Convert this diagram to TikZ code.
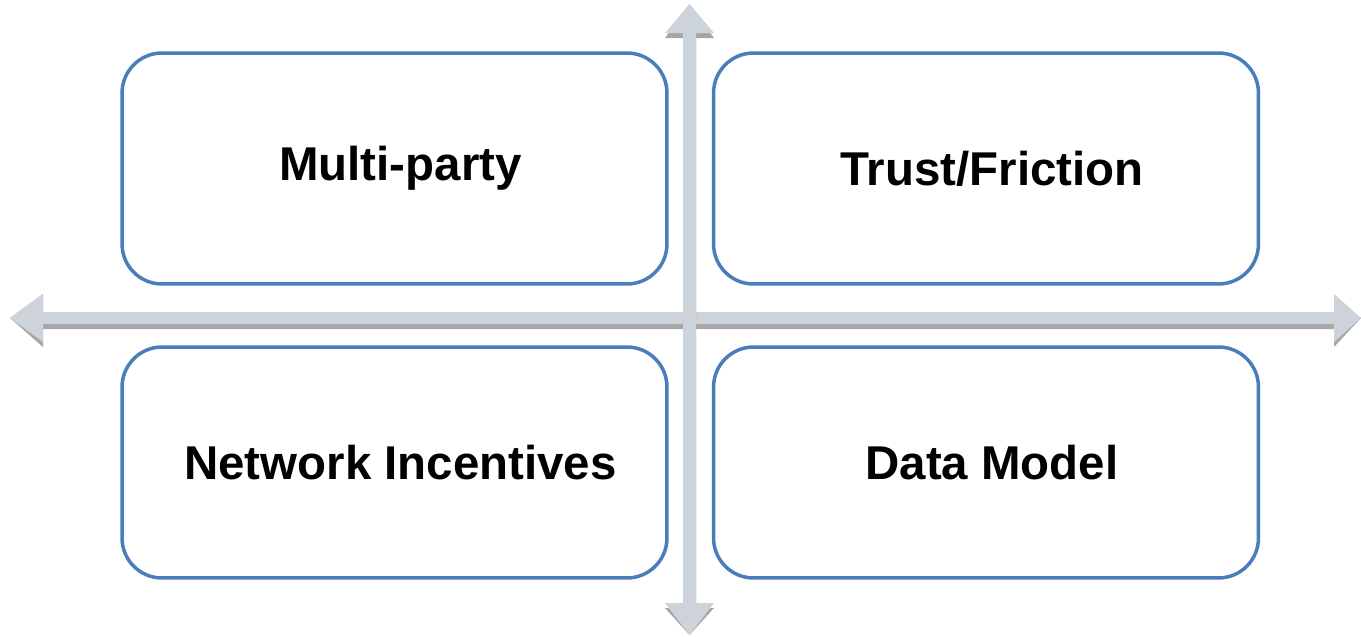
\documentclass[tikz,border=0pt]{standalone}
\usepackage{fontspec}
\setmainfont{Liberation Sans}
\usepackage{tikz}
\usetikzlibrary{positioning}
\definecolor{boxline}{HTML}{4A7EBB}
\definecolor{axisfill}{HTML}{CDD3DA}
\definecolor{axisshade}{HTML}{A6A6A6}

\begin{document}
\begin{tikzpicture}[x=0.02cm,y=-0.02cm]
\tikzstyle{quad}=[rounded corners=0.8cm,draw=boxline,line width=0.07cm,fill=white,minimum width=10.9cm,minimum height=4.62cm,font=\fontsize{27}{32}\selectfont\bfseries,execute at begin node=\hspace{0.24cm}]
\tikzstyle{axis}=[fill=axisfill,draw=none]
\tikzstyle{axisshadow}=[fill=axisshade,draw=none]
\useasboundingbox (0,0) rectangle (1361,636);
% horizontal axis
\coordinate (left) at (10,318);
\coordinate (right) at (1361,318);
\path [axisshadow,yshift=-0.1cm] (left) -- ++(33,-24) -- ++(0,18) -- (1334,312) -- ++(0,-18) -- (right) -- (1334,342) -- ++(0,-18) -- (43,324) -- ++(0,18) -- cycle;
\path [axis] (left) -- ++(33,-24) -- ++(0,18) -- (1334,312) -- ++(0,-18) -- (right) -- (1334,342) -- ++(0,-18) -- (43,324) -- ++(0,18) -- cycle;
% vertical axis
\coordinate (top) at (689.5,4);
\coordinate (bottom) at (689.5,635);
\path [axisshadow,yshift=-0.1cm] (top) -- (714,33) -- (696,33) -- (696,603) -- (714,603) -- (bottom) -- (665,603) -- (683,603) -- (683,33) -- (665,33) -- cycle;
\path [axis] (top) -- (714,33) -- (696,33) -- (696,603) -- (714,603) -- (bottom) -- (665,603) -- (683,603) -- (683,33) -- (665,33) -- cycle;
% quadrants
\node [quad] (multi) at (394.5,168.5) {Multi-party};
\node [quad] (trust) at (986,168.5) {Trust/Friction};
\node [quad] (incent) at (394.5,462.5) {Network Incentives};
\node [quad] (data) at (986,462.5) {Data Model};
\end{tikzpicture}
\end{document}
